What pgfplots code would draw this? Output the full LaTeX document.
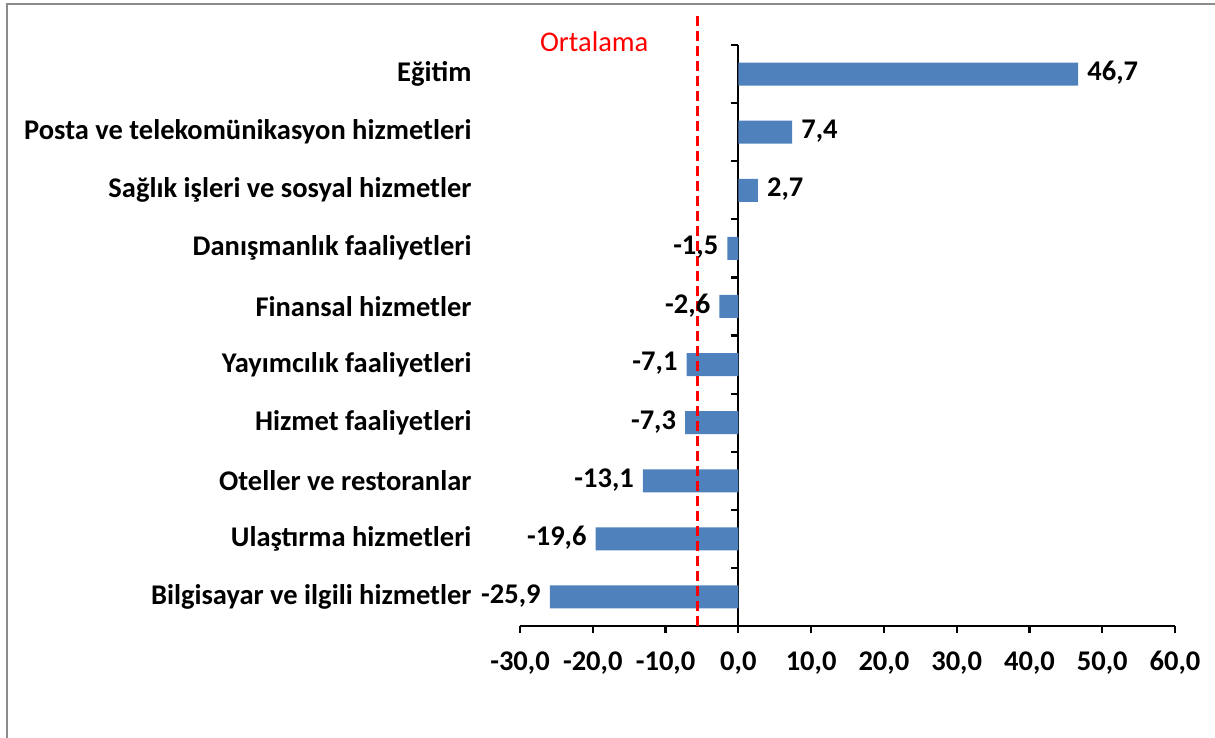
\documentclass[border=0pt]{standalone}
\usepackage{fontspec}
\setmainfont{Carlito}
\usepackage{pgfplots}
\pgfplotsset{compat=1.18}
\definecolor{barblue}{HTML}{4F81BD}
\newcommand{\bigfont}{\fontsize{28.5}{34}\selectfont}
\begin{document}
\begin{tikzpicture}[font=\bigfont]
\useasboundingbox (0,0) rectangle (1215pt,-738pt);
\draw[gray!90, line width=2pt] (7pt,-745pt) -- (7pt,-4pt) -- (1220pt,-4pt);
\begin{axis}[
  at={(520pt,-626pt)}, anchor=south west,
  scale only axis, width=655pt, height=581pt,
  xmin=-30, xmax=60, ymin=-0.5, ymax=9.5,
  axis x line=bottom, axis y line=center,
  axis line style={-, black, line width=2.2pt},
  xtick={-30,-20,...,60},
  ytick={-0.5,0.5,...,9.5},
  yticklabels={,,},
  tick align=outside,
  major tick length=7pt,
  tick style={black, line width=2.2pt},
  xticklabel style={font=\bigfont\bfseries, yshift=-15pt},
  /pgf/number format/.cd, fixed, fixed zerofill, precision=1, use comma, assume math mode=true,
  /pgfplots/.cd,
  clip=false,
]
\addplot[xbar, fill=barblue, draw=none, bar width=23pt, bar shift=0pt,
  point meta=x, nodes near coords, nodes near coords align=horizontal,
  every node near coord/.append style={font=\bigfont\bfseries, black, inner xsep=9pt, inner ysep=3pt, yshift=1pt}]
  coordinates {
    (-25.9,0) (-19.6,1) (-13.1,2) (-7.3,3) (-7.1,4)
    (-2.6,5) (-1.5,6) (2.7,7) (7.4,8) (46.7,9)
  };
\addplot[red, line width=2.5pt, dash pattern=on 10pt off 5pt, mark=none]
  coordinates {(-5.6,-0.5) (-5.6,10.02)};
\node[red, anchor=center, font=\bigfont] at (axis cs:-19.8,9.55) {Ortalama};
\begin{scope}[every node/.style={anchor=east, xshift=-45pt, font=\bigfont\bfseries}]
\node at (axis cs:-30,9) {Eğitim};
\node at (axis cs:-30,8) {Posta ve telekomünikasyon hizmetleri};
\node at (axis cs:-30,7) {Sağlık işleri ve sosyal hizmetler};
\node at (axis cs:-30,6) {Danışmanlık faaliyetleri};
\node at (axis cs:-30,5) {Finansal hizmetler};
\node at (axis cs:-30,4) {Yayımcılık faaliyetleri};
\node at (axis cs:-30,3) {Hizmet faaliyetleri};
\node at (axis cs:-30,2) {Oteller ve restoranlar};
\node at (axis cs:-30,1) {Ulaştırma hizmetleri};
\node at (axis cs:-30,0) {Bilgisayar ve ilgili hizmetler};
\end{scope}
\end{axis}
\end{tikzpicture}
\end{document}
